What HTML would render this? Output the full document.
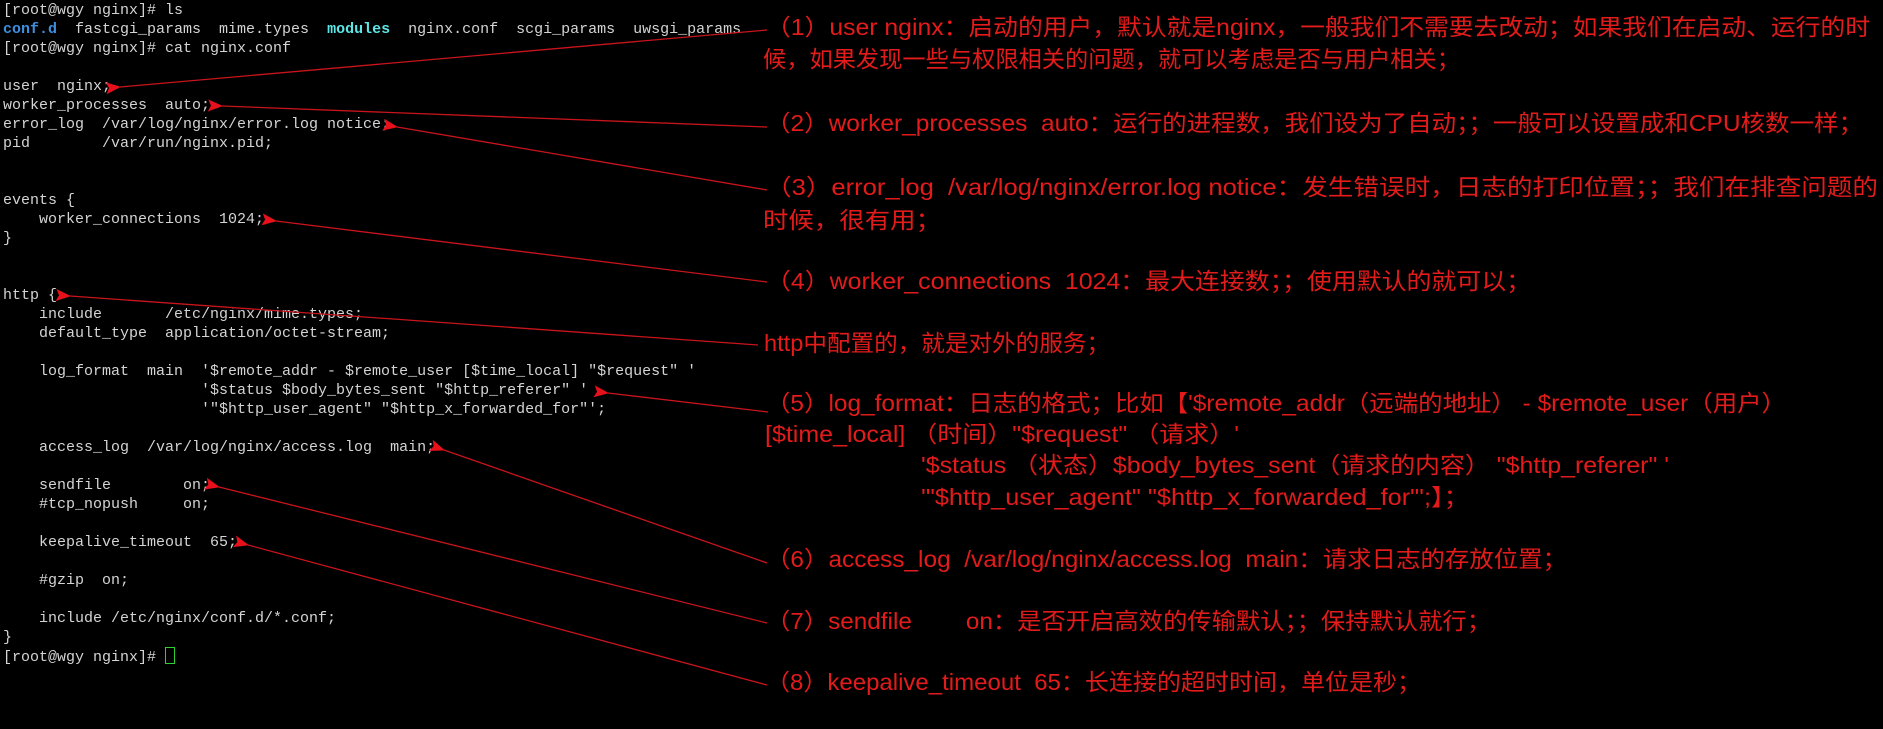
<!DOCTYPE html>
<html><head><meta charset="utf-8"><style>
html,body{margin:0;padding:0;background:#000;width:1883px;height:729px;overflow:hidden;position:relative}
pre{position:absolute;left:3px;top:1px;margin:0;font-family:"Liberation Mono",monospace;font-size:15px;line-height:19px;color:#d4d4d4}
.b{color:#3d8fe0;font-weight:bold}.c{color:#5ee6e6;font-weight:bold}
.cur{display:inline-block;width:8px;height:15px;border:1px solid #2fd02f;vertical-align:-3px}
svg{position:absolute;left:0;top:0}
svg text{white-space:pre}
</style></head><body>
<pre>[root@wgy nginx]# ls
<span class="b">conf.d</span>  fastcgi_params  mime.types  <span class="c">modules</span>  nginx.conf  scgi_params  uwsgi_params
[root@wgy nginx]# cat nginx.conf

user  nginx;
worker_processes  auto;
error_log  /var/log/nginx/error.log notice;
pid        /var/run/nginx.pid;


events {
    worker_connections  1024;
}


http {
    include       /etc/nginx/mime.types;
    default_type  application/octet-stream;

    log_format  main  '$remote_addr - $remote_user [$time_local] "$request" '
                      '$status $body_bytes_sent "$http_referer" '
                      '"$http_user_agent" "$http_x_forwarded_for"';

    access_log  /var/log/nginx/access.log  main;

    sendfile        on;
    #tcp_nopush     on;

    keepalive_timeout  65;

    #gzip  on;

    include /etc/nginx/conf.d/*.conf;
}
[root@wgy nginx]# <span class="cur"></span></pre>
<svg width="1883" height="729" xmlns="http://www.w3.org/2000/svg" xml:space="preserve">
<defs><marker id="a" markerWidth="16" markerHeight="12" refX="1" refY="6" orient="auto-start-reverse" markerUnits="userSpaceOnUse"><path d="M0,6 L15,0 L12,6 L15,12 Z" fill="#e8101a"/></marker></defs>
<g stroke="#c8141c" stroke-width="1.3" fill="none">
<line x1="120" y1="87" x2="767" y2="30" marker-start="url(#a)"/>
<line x1="222" y1="106" x2="767" y2="127" marker-start="url(#a)"/>
<line x1="397" y1="127" x2="767" y2="190" marker-start="url(#a)"/>
<line x1="276" y1="221" x2="767" y2="282" marker-start="url(#a)"/>
<line x1="70" y1="296" x2="758" y2="345" marker-start="url(#a)"/>
<line x1="608" y1="393" x2="768" y2="412" marker-start="url(#a)"/>
<line x1="444" y1="450" x2="767" y2="563" marker-start="url(#a)"/>
<line x1="219" y1="487" x2="767" y2="623" marker-start="url(#a)"/>
<line x1="248" y1="545" x2="767" y2="685" marker-start="url(#a)"/>
</g>
<g fill="#e31b1b" font-family="'Liberation Sans','Noto Sans CJK SC',sans-serif" font-size="23">
<text x="766" y="35" textLength="1104" lengthAdjust="spacingAndGlyphs">（1）user nginx：启动的用户，默认就是nginx，一般我们不需要去改动；如果我们在启动、运行的时</text>
<text x="763" y="67" textLength="697" lengthAdjust="spacingAndGlyphs">候，如果发现一些与权限相关的问题，就可以考虑是否与用户相关；</text>
<text x="766" y="131" textLength="1097" lengthAdjust="spacingAndGlyphs">（2）worker_processes  auto：运行的进程数，我们设为了自动；；一般可以设置成和CPU核数一样；</text>
<text x="766" y="195" textLength="1112" lengthAdjust="spacingAndGlyphs">（3）error_log  /var/log/nginx/error.log notice：发生错误时，日志的打印位置；；我们在排查问题的</text>
<text x="763" y="228" textLength="178" lengthAdjust="spacingAndGlyphs">时候，很有用；</text>
<text x="766" y="289" textLength="765" lengthAdjust="spacingAndGlyphs">（4）worker_connections  1024：最大连接数；；使用默认的就可以；</text>
<text x="764" y="351" textLength="346" lengthAdjust="spacingAndGlyphs">http中配置的，就是对外的服务；</text>
<text x="766" y="411" textLength="1020" lengthAdjust="spacingAndGlyphs">（5）log_format：日志的格式；比如【'$remote_addr（远端的地址） - $remote_user（用户）</text>
<text x="765" y="442" textLength="474" lengthAdjust="spacingAndGlyphs">[$time_local] （时间）"$request" （请求）'</text>
<text x="921" y="473" textLength="748" lengthAdjust="spacingAndGlyphs">'$status （状态）$body_bytes_sent（请求的内容） "$http_referer" '</text>
<text x="921" y="505" textLength="548" lengthAdjust="spacingAndGlyphs">'"$http_user_agent" "$http_x_forwarded_for"';】；</text>
<text x="766" y="567" textLength="801" lengthAdjust="spacingAndGlyphs">（6）access_log  /var/log/nginx/access.log  main：请求日志的存放位置；</text>
<text x="766" y="629" textLength="725" lengthAdjust="spacingAndGlyphs">（7）sendfile        on：是否开启高效的传输默认；；保持默认就行；</text>
<text x="766" y="690" textLength="655" lengthAdjust="spacingAndGlyphs">（8）keepalive_timeout  65：长连接的超时时间，单位是秒；</text>
</g>
</svg>
</body></html>
